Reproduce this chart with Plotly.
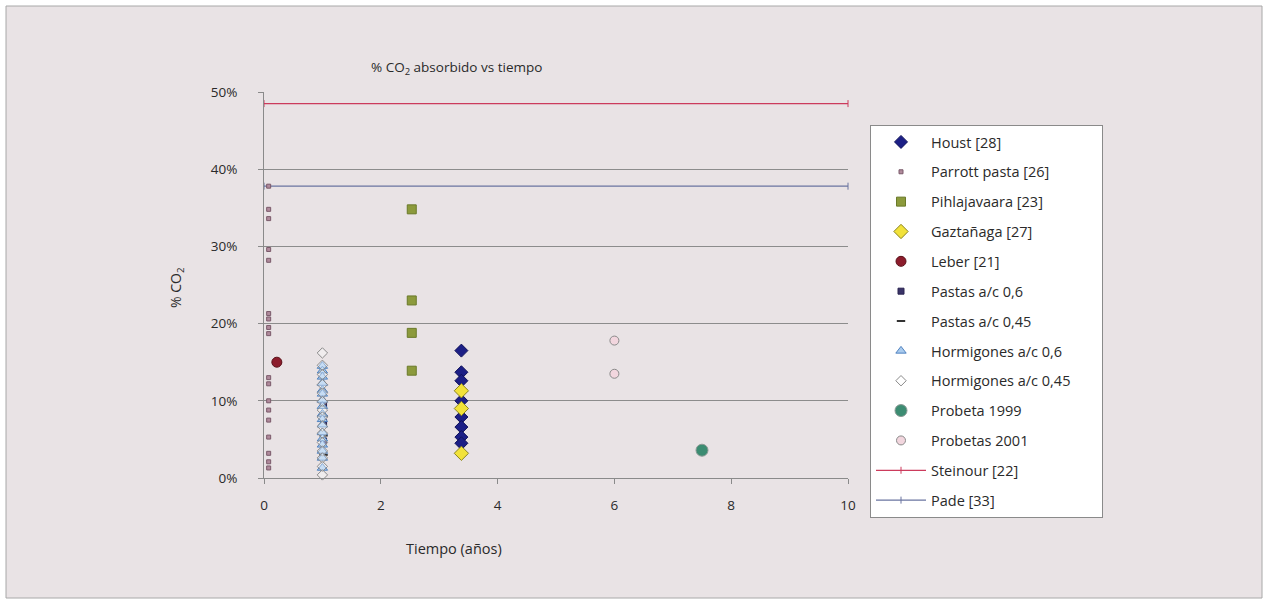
import plotly.graph_objects as go

# ---- data (% CO2 absorbed vs time in years) ----
houst_x = [3.38] * 8
houst_y = [16.5, 13.7, 12.6, 10.0, 7.9, 6.6, 5.3, 4.5]

parrott_x = [0.08] * 18
parrott_y = [37.8, 34.8, 33.6, 29.6, 28.2, 21.3, 20.6, 19.5, 18.7,
             13.0, 12.2, 10.0, 8.8, 7.5, 5.3, 3.2, 2.1, 1.3]

pihla_x = [2.53] * 4
pihla_y = [34.8, 23.0, 18.8, 13.9]

gazta_x = [3.38] * 3
gazta_y = [11.3, 9.0, 3.2]

leber_x = [0.22]
leber_y = [15.0]

pastas06_x = [1.02] * 3
pastas06_y = [9.5, 7.2, 4.8]

pastas045_x = [1.02] * 3
pastas045_y = [8.0, 5.5, 3.0]

horm06_x = [1.0] * 17
horm06_y = [14.5, 13.9, 13.1, 12.3, 11.4, 10.9, 10.1, 9.3, 8.3,
            7.6, 6.9, 5.9, 5.1, 4.3, 3.5, 2.6, 1.3]

horm045_x = [1.0] * 15
horm045_y = [16.2, 14.6, 13.4, 12.1, 11.0, 9.9, 8.8, 7.9,
             6.7, 5.8, 4.6, 3.5, 2.6, 1.5, 0.4]

prob1999_x = [7.5]
prob1999_y = [3.6]

prob2001_x = [6.0, 6.0]
prob2001_y = [17.8, 13.5]

line_x = [0, 10]
steinour_y = [48.5, 48.5]
pade_y = [37.8, 37.8]

x_ticks = [0, 2, 4, 6, 8, 10]
y_ticks = [0, 10, 20, 30, 40, 50]

# ---- layout geometry (pixels) ----
W, H = 1267, 609
ML, MR, MT, MB = 264, 1267 - 848, 92, 609 - 478
PW, PH = W - ML - MR, H - MT - MB


def px_x(p):
    return (p - ML) / PW


def px_y(p):
    return (H - MB - p) / PH


FONT = "Open Sans"
TXT = "#2a2a2a"
NB = "\u00a0"

fig = go.Figure()


def add_pts(name, xs, ys, symbol, size, fill, edge, edge_w=1):
    fig.add_trace(go.Scatter(
        x=xs, y=ys, mode="markers", name=name, legendgroup=name,
        marker=dict(symbol=symbol, size=size, color=fill,
                    line=dict(color=edge, width=edge_w)),
        cliponaxis=False,
    ))


def add_line(name, xs, ys, color):
    fig.add_trace(go.Scatter(
        x=xs, y=ys, mode="lines+markers", name=name, legendgroup=name,
        line=dict(color=color, width=1.3),
        marker=dict(symbol="line-ns", size=5, color=color,
                    line=dict(color=color, width=1)),
        cliponaxis=False,
    ))


add_line("Steinour [22]", line_x, steinour_y, "#cc3b5c")
add_line("Pade [33]", line_x, pade_y, "#6a74a0")
add_pts("Houst [28]", houst_x, houst_y, "diamond", 10, "#1c1f86", "#10125a")
add_pts("Parrott pasta [26]", parrott_x, parrott_y, "square", 4, "#b08a9c", "#7a5a6a")
add_pts("Pihlajavaara [23]", pihla_x, pihla_y, "square", 9, "#8c9a3c", "#6a7a2a")
add_pts("Gaztañaga [27]", gazta_x, gazta_y, "diamond", 11, "#f2e23a", "#8a8420")
add_pts("Leber [21]", leber_x, leber_y, "circle", 10, "#8c1c2c", "#5a1018")
add_pts("Pastas a/c 0,6", pastas06_x, pastas06_y, "square", 6, "#3a3468", "#2a2450")
add_pts("Pastas a/c 0,45", pastas045_x, pastas045_y, "line-ew", 6, "#333333", "#333333", 2)
add_pts("Hormigones a/c 0,6", horm06_x, horm06_y, "triangle-up", 9, "#a9cbee", "#4f82c0")
add_pts("Hormigones a/c 0,45" + NB * 7, horm045_x, horm045_y, "diamond", 8,
        "rgba(255,255,255,0.35)", "#8a8a8a")
add_pts("Probeta 1999", prob1999_x, prob1999_y, "circle", 12, "#3c8c72", "#8a9a94")
add_pts("Probetas 2001", prob2001_x, prob2001_y, "circle", 9, "#f2d6de", "#8a8a8a")

# legend lists series in their original order while the lines sit underneath
order = ["Houst [28]", "Parrott pasta [26]", "Pihlajavaara [23]", "Gaztañaga [27]",
         "Leber [21]", "Pastas a/c 0,6", "Pastas a/c 0,45", "Hormigones a/c 0,6",
         "Hormigones a/c 0,45", "Probeta 1999", "Probetas 2001", "Steinour [22]",
         "Pade [33]"]
for tr in fig.data:
    tr.legendrank = order.index(tr.name.rstrip(NB)) + 1

# chart frame behind everything
fig.add_shape(type="rect", xref="paper", yref="paper",
              x0=px_x(6), x1=px_x(1262), y0=px_y(598), y1=px_y(6),
              fillcolor="#e9e3e5", line=dict(color="#a8a8a8", width=1),
              layer="below")

fig.update_layout(
    width=W, height=H,
    margin=dict(l=ML, r=MR, t=MT, b=MB),
    paper_bgcolor="#ffffff",
    plot_bgcolor="#ffffff",
    font=dict(family=FONT, size=13, color=TXT),
    showlegend=True,
    legend=dict(
        x=px_x(870), y=px_y(125), xanchor="left", yanchor="top",
        bgcolor="#ffffff", bordercolor="#8a8a8a", borderwidth=1,
        font=dict(family=FONT, size=14.5, color=TXT),
        traceorder="grouped", tracegroupgap=8, itemwidth=50,
        maxheight=500,
    ),
    xaxis=dict(
        range=[0, 10], tickvals=x_ticks, ticktext=[str(v) for v in x_ticks],
        showgrid=False, zeroline=False,
        showline=True, linecolor="#8a8a8a", linewidth=1,
        ticks="outside", ticklen=5, tickcolor="#8a8a8a",
        ticklabelstandoff=10,
        tickfont=dict(size=13.5, color=TXT),
    ),
    yaxis=dict(
        range=[0, 50], tickvals=y_ticks, ticktext=[f"{v}%" for v in y_ticks],
        showgrid=True, gridcolor="#8c8c8c", gridwidth=1, zeroline=False,
        showline=True, linecolor="#8a8a8a", linewidth=1,
        ticks="outside", ticklen=5, tickcolor="#8a8a8a",
        ticklabelstandoff=18,
        tickfont=dict(size=13.5, color=TXT),
    ),
    annotations=[
        dict(text="% CO<sub>2</sub> absorbido vs tiempo", xref="paper", yref="paper",
             x=px_x(456), y=px_y(68), showarrow=False,
             font=dict(size=13.5, color=TXT), xanchor="center", yanchor="middle"),
        dict(text="Tiempo (años)", xref="paper", yref="paper",
             x=px_x(454), y=px_y(548), showarrow=False,
             font=dict(size=14.5, color=TXT), xanchor="center", yanchor="middle"),
        dict(text="% CO<sub>2</sub>", xref="paper", yref="paper",
             x=px_x(176), y=px_y(288), showarrow=False, textangle=-90,
             font=dict(size=14, color=TXT), xanchor="center", yanchor="middle"),
    ],
)

fig.write_html("out.html")
